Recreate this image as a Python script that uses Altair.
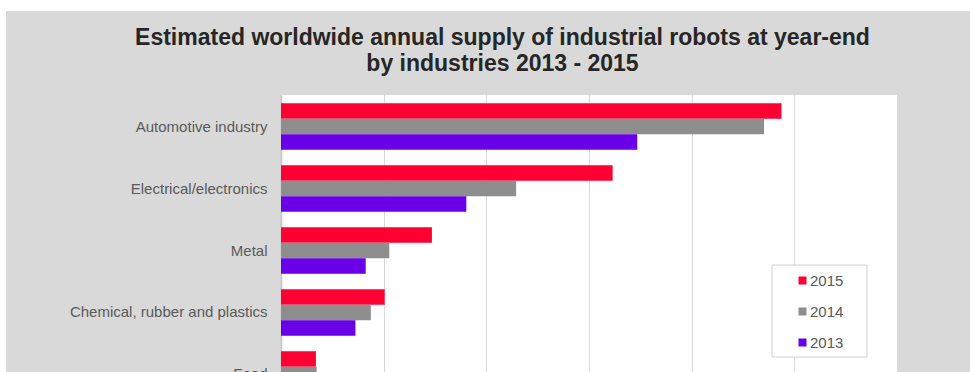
import altair as alt
import pandas as pd

categories = ["Automotive industry", "Electrical/electronics", "Metal",
              "Chemical, rubber and plastics", "Food"]
years = ["2015", "2014", "2013"]
v2015 = [97500, 64600, 29400, 20200, 6800]
v2014 = [94100, 45800, 21100, 17500, 6950]
v2013 = [69400, 36100, 16500, 14500, 6000]
colors = ["#FF0033", "#8E8E8E", "#6A00E8"]
x_ticks = [0, 20000, 40000, 60000, 80000, 100000, 120000]

rows = []
for yr, vals in zip(years, [v2015, v2014, v2013]):
    for c, v in zip(categories, vals):
        rows.append({"industry": c, "year": yr, "units": v})
df = pd.DataFrame(rows)

FONT = "Liberation Sans"

bars = alt.Chart(df).mark_bar(clip=True).encode(
    x=alt.X("units:Q",
            scale=alt.Scale(domain=[0, 120000], nice=False),
            axis=alt.Axis(values=x_ticks, labels=False, ticks=False, domain=False,
                          grid=True, gridColor="#d9d9d9", gridWidth=1, title=None)),
    y=alt.Y("industry:N", sort=categories,
            scale=alt.Scale(range=[0, 311], paddingInner=0.25, paddingOuter=0.134),
            axis=alt.Axis(title=None, ticks=False, labelPadding=14, labelFont=FONT,
                          labelFontSize=15, labelColor="#595959", domain=True,
                          domainColor="#c4c4c4", domainWidth=1.5, grid=False,
                          labelLimit=300)),
    yOffset=alt.YOffset("year:N", sort=years,
                        scale=alt.Scale(paddingInner=0, paddingOuter=0)),
    color=alt.Color("year:N", sort=years,
                    scale=alt.Scale(domain=years, range=colors),
                    legend=alt.Legend(title=None, orient="none", legendX=491, legendY=170,
                                      symbolType="square", symbolSize=64,
                                      symbolOffset=15, labelOffset=0,
                                      labelFont=FONT, labelFontSize=15,
                                      labelColor="#595959", rowPadding=15,
                                      padding=8)),
)

one = pd.DataFrame({"k": [0]})
# decorative frame behind the legend entries
legend_frame = alt.Chart(one).mark_rect(fill="white", stroke="#d0d0d0",
                                        strokeWidth=1, clip=False).encode(
    x=alt.value(491), x2=alt.value(586), y=alt.value(170), y2=alt.value(262))
top_strip = alt.Chart(one).mark_rect(color="white", clip=False).encode(
    x=alt.value(-281), x2=alt.value(689), y=alt.value(-95), y2=alt.value(-84))
left_strip = alt.Chart(one).mark_rect(color="white", clip=False).encode(
    x=alt.value(-281), x2=alt.value(-275), y=alt.value(-95), y2=alt.value(277))

chart = alt.layer(bars, legend_frame, top_strip, left_strip).properties(
    width=616, height=277,
    title=alt.TitleParams(
        ["Estimated worldwide annual supply of industrial robots at year-end",
         "by industries 2013 - 2015"],
        font=FONT, fontSize=23, fontWeight="bold", color="#262626",
        anchor="middle", frame="group", dx=-86.5, offset=-76, lineHeight=26),
    autosize=alt.AutoSizeParams(type="none"),
    padding={"left": 281, "top": 95, "right": 73, "bottom": 0},
).configure(background="#d9d9d9").configure_view(fill="white", stroke=None)

chart.save("out.html", embed_options={"renderer": "svg", "actions": False})
